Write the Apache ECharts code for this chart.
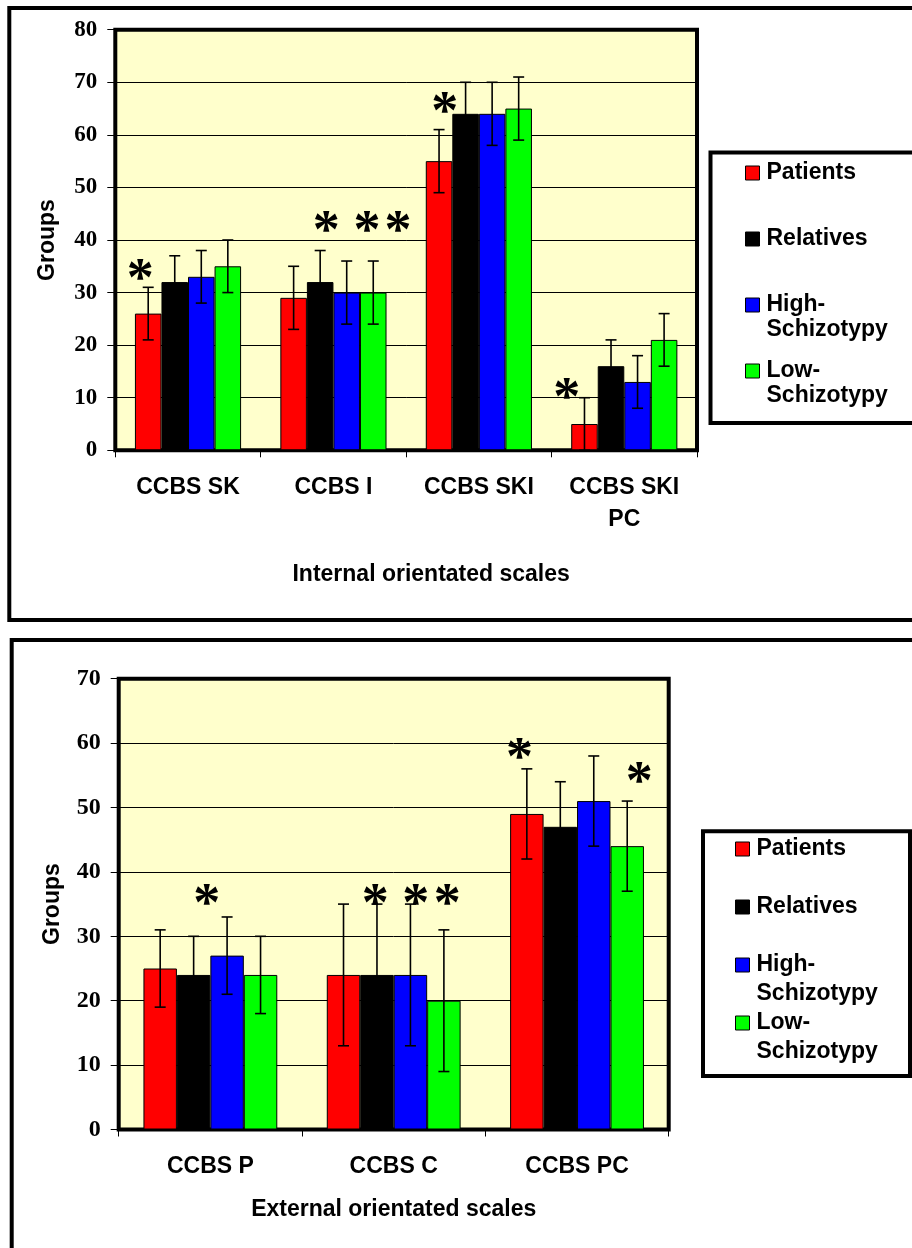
<!DOCTYPE html>
<html>
<head>
<meta charset="utf-8">
<script src="https://cdn.jsdelivr.net/npm/echarts@6.0.0/dist/echarts.min.js"></script>
<style>
  html, body { margin: 0; padding: 0; background: #ffffff; }
  #chart { width: 912px; height: 1248px; }
</style>
</head>
<body>
<div id="chart"></div>
<script>
// ---- Groups ----
const groupNames = ['Patients', 'Relatives', 'High-Schizotypy', 'Low-Schizotypy'];
const groupColors = ['#FF0000', '#000000', '#0000FF', '#00FF00'];

// ---- Internal orientated scales (upper panel) ----
const internalScales = ['CCBS SK', 'CCBS I', 'CCBS SKI', 'CCBS SKI\nPC'];
const internalPatients  = [26, 29, 55, 5];
const internalRelatives = [32, 32, 64, 16];
const internalHigh      = [33, 30, 64, 13];
const internalLow       = [35, 30, 65, 21];
const internalErrPatients  = [5, 6, 6, 5];
const internalErrRelatives = [5, 6, 6, 5];
const internalErrHigh      = [5, 6, 6, 5];
const internalErrLow       = [5, 6, 6, 5];
const internalTicks = [0, 10, 20, 30, 40, 50, 60, 70, 80];
// significance marks: [scale index, bar slot within the cluster, level]
const internalSig = [[0, 0.2, 34.4], [1, 1.73, 43.5], [1, 3.26, 43.5], [1, 4.43, 43.5], [2, 0.71, 66.2], [3, -0.17, 11.8]];

// ---- External orientated scales (lower panel) ----
const externalScales = ['CCBS P', 'CCBS C', 'CCBS PC'];
const externalPatients  = [25, 24, 49];
const externalRelatives = [24, 24, 47];
const externalHigh      = [27, 24, 51];
const externalLow       = [24, 20, 44];
const externalErrPatients  = [6, 11, 7];
const externalErrRelatives = [6, 11, 7];
const externalErrHigh      = [6, 11, 7];
const externalErrLow       = [6, 11, 7];
const externalTicks = [0, 10, 20, 30, 40, 50, 60, 70];
const externalSig = [[0, 1.89, 36.5], [1, 1.45, 36.5], [1, 2.66, 36.5], [1, 3.6, 36.5], [2, 0.28, 59.1], [2, 3.86, 55.4]];

// ---- styling ----
const SANS = '"Liberation Sans", Arial, sans-serif';
const SERIF = '"Liberation Serif", "Times New Roman", serif';
const CAT_GAP = 0.27;
const SIG_SIZE = 54;
const TEXT_SIZE = 23;

function errorRows(valueSets, errSets) {
  const rows = [];
  valueSets.forEach(function (vals, g) {
    vals.forEach(function (v, c) {
      rows.push([c, g, Math.max(0, v - errSets[g][c]), v + errSets[g][c]]);
    });
  });
  return rows;
}

function clusterGeom(api, cat) {
  const center = api.coord([cat, 0])[0];
  const band = api.size([1, 0])[0];
  const span = band * (1 - CAT_GAP);
  return { left: center - span / 2, barW: span / 4 };
}

function renderErrorBar(params, api) {
  const cat = api.value(0);
  const slot = api.value(1);
  const g = clusterGeom(api, cat);
  const x = g.left + (slot + 0.5) * g.barW;
  const yLo = api.coord([cat, api.value(2)])[1];
  const yHi = api.coord([cat, api.value(3)])[1];
  const cap = 5.5;
  const st = { stroke: '#000', lineWidth: 1.6 };
  return {
    type: 'group',
    children: [
      { type: 'line', shape: { x1: x, y1: yLo, x2: x, y2: yHi }, style: st },
      { type: 'line', shape: { x1: x - cap, y1: yHi, x2: x + cap, y2: yHi }, style: st },
      { type: 'line', shape: { x1: x - cap, y1: yLo, x2: x + cap, y2: yLo }, style: st }
    ]
  };
}

// the serif asterisk sits high in its em box; nudge it down so its centre
// lands on the requested level
function renderSig(params, api) {
  const cat = api.value(0);
  const g = clusterGeom(api, cat);
  const x = g.left + api.value(1) * g.barW;
  const y = api.coord([cat, api.value(2)])[1];
  return {
    type: 'text',
    x: x,
    y: y + SIG_SIZE * 0.21,
    style: {
      text: '*',
      fill: '#000',
      fontFamily: SERIF,
      fontWeight: 'bold',
      fontSize: SIG_SIZE,
      align: 'center',
      verticalAlign: 'middle'
    }
  };
}

function barSeries(name, color, data, axisIdx) {
  return {
    type: 'bar',
    name: name,
    xAxisIndex: axisIdx,
    yAxisIndex: axisIdx,
    data: data,
    barGap: '0%',
    barCategoryGap: (CAT_GAP * 100) + '%',
    itemStyle: { color: color, borderColor: '#000', borderWidth: 1 },
    emphasis: { disabled: true },
    z: 3
  };
}

// one legend block per group so each entry sits at its own height;
// hyphenated names wrap after the hyphen, with a blank leading line so
// the first text line lines up with the swatch
function legendEntry(name, left, centerY, lineH) {
  const twoLine = name.indexOf('-') >= 0;
  return {
    data: [name],
    left: left,
    top: twoLine ? centerY - 1.5 * lineH : centerY - lineH / 2,
    orient: 'vertical',
    padding: 0,
    selectedMode: false,
    icon: 'rect',
    itemWidth: 14,
    itemHeight: 14,
    itemStyle: { borderColor: '#000', borderWidth: 1 },
    formatter: function (n) { return n.indexOf('-') >= 0 ? ' \n' + n.replace('-', '-\n') : n; },
    textStyle: {
      fontFamily: SANS,
      fontWeight: 'bold',
      fontSize: TEXT_SIZE,
      color: '#000',
      lineHeight: lineH,
      padding: [0, 0, 0, 2]
    }
  };
}

function yAxisCfg(gridIdx, max, nameGap, labelSize) {
  return {
    type: 'value',
    gridIndex: gridIdx,
    min: 0,
    max: max,
    interval: 10,
    name: 'Groups',
    nameLocation: 'middle',
    nameGap: nameGap,
    nameTextStyle: { fontFamily: SANS, fontWeight: 'bold', fontSize: TEXT_SIZE, color: '#000', lineHeight: 26 },
    axisLine: { show: false },
    axisTick: { show: true, length: 8, lineStyle: { color: '#000', width: 1 } },
    axisLabel: { fontFamily: SERIF, fontWeight: 'bold', fontSize: labelSize, color: '#000', margin: 18 },
    splitLine: { show: true, lineStyle: { color: '#000', width: 1 } }
  };
}

function xAxisCfg(gridIdx, cats, title, nameGap, namePad) {
  return {
    type: 'category',
    gridIndex: gridIdx,
    data: cats,
    name: title,
    nameLocation: 'middle',
    nameGap: nameGap,
    nameTextStyle: { fontFamily: SANS, fontWeight: 'bold', fontSize: TEXT_SIZE, color: '#000', lineHeight: 26, padding: namePad },
    axisLine: { show: false },
    axisTick: { show: true, length: 7, lineStyle: { color: '#000', width: 1 } },
    axisLabel: { interval: 0, fontFamily: SANS, fontWeight: 'bold', fontSize: TEXT_SIZE, color: '#000', lineHeight: 32, margin: 21 },
    splitLine: { show: false }
  };
}

const internalSets = [internalPatients, internalRelatives, internalHigh, internalLow];
const internalErrs = [internalErrPatients, internalErrRelatives, internalErrHigh, internalErrLow];
const externalSets = [externalPatients, externalRelatives, externalHigh, externalLow];
const externalErrs = [externalErrPatients, externalErrRelatives, externalErrHigh, externalErrLow];

const series = [];
internalSets.forEach(function (d, i) { series.push(barSeries(groupNames[i], groupColors[i], d, 0)); });
externalSets.forEach(function (d, i) { series.push(barSeries(groupNames[i], groupColors[i], d, 1)); });
series.push({
  type: 'custom', xAxisIndex: 0, yAxisIndex: 0, renderItem: renderErrorBar,
  data: errorRows(internalSets, internalErrs), encode: { x: 0, y: [2, 3] }, z: 5, silent: true
});
series.push({
  type: 'custom', xAxisIndex: 1, yAxisIndex: 1, renderItem: renderErrorBar,
  data: errorRows(externalSets, externalErrs), encode: { x: 0, y: [2, 3] }, z: 5, silent: true
});
series.push({
  type: 'custom', xAxisIndex: 0, yAxisIndex: 0, renderItem: renderSig,
  data: internalSig, encode: { x: 0, y: 2 }, z: 6, silent: true
});
series.push({
  type: 'custom', xAxisIndex: 1, yAxisIndex: 1, renderItem: renderSig,
  data: externalSig, encode: { x: 0, y: 2 }, z: 6, silent: true
});

const legends = [];
[173, 239, 305, 371].forEach(function (c, i) { legends.push(legendEntry(groupNames[i], 745, c, 25)); });
[849, 907, 965, 1023].forEach(function (c, i) { legends.push(legendEntry(groupNames[i], 735, c, 29)); });

const chart = echarts.init(document.getElementById('chart'), null, { renderer: 'canvas' });
chart.setOption({
  backgroundColor: '#ffffff',
  animation: false,
  graphic: [
    { type: 'rect', z: -10, shape: { x: 9.3, y: 8, width: 930, height: 612 }, style: { fill: 'none', stroke: '#000', lineWidth: 4 } },
    { type: 'rect', z: -10, shape: { x: 11.7, y: 640, width: 930, height: 700 }, style: { fill: 'none', stroke: '#000', lineWidth: 4 } },
    { type: 'rect', z: -5, shape: { x: 710.5, y: 152.5, width: 215, height: 270.5 }, style: { fill: '#fff', stroke: '#000', lineWidth: 4 } },
    { type: 'rect', z: -5, shape: { x: 703, y: 831.3, width: 207, height: 244.7 }, style: { fill: '#fff', stroke: '#000', lineWidth: 4 } }
  ],
  grid: [
    { left: 115.3, top: 29.7, width: 581.7, height: 420.6, show: true, backgroundColor: '#FFFFCC', borderColor: '#000', borderWidth: 4, z: 0 },
    { left: 118.7, top: 678.7, width: 550, height: 450.8, show: true, backgroundColor: '#FFFFCC', borderColor: '#000', borderWidth: 4, z: 0 }
  ],
  xAxis: [
    xAxisCfg(0, internalScales, 'Internal orientated scales', 111, [0, 0, 0, 50]),
    xAxisCfg(1, externalScales, 'External orientated scales', 67, [0, 0, 0, 0])
  ],
  yAxis: [
    yAxisCfg(0, internalTicks[internalTicks.length - 1], 55, 23),
    yAxisCfg(1, externalTicks[externalTicks.length - 1], 53, 24)
  ],
  legend: legends,
  series: series
});
</script>
</body>
</html>
